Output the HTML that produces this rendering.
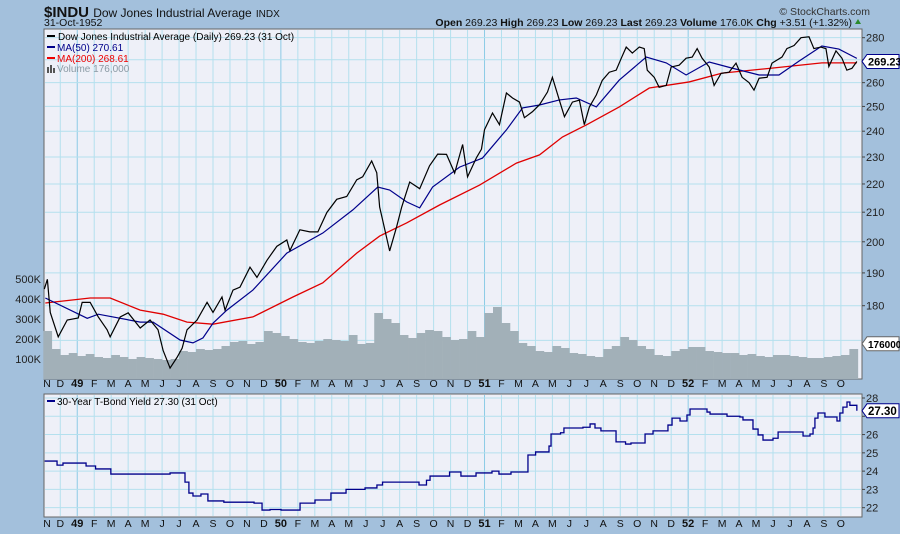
<!DOCTYPE html>
<html><head><meta charset="utf-8"><style>
body{margin:0;background:#a3c0dc;}
svg{display:block;font-family:"Liberation Sans",sans-serif;}
</style></head><body>
<svg id="chart" width="900" height="534" viewBox="0 0 900 534">
<rect x="0" y="0" width="900" height="534" fill="#a3c0dc"/>
<text x="44" y="17" font-size="15" font-weight="bold" fill="#111">$INDU <tspan font-size="12" font-weight="normal">Dow Jones Industrial Average</tspan> <tspan font-size="10" font-weight="normal">INDX</tspan></text>
<text x="44" y="26" font-size="10.5" fill="#111">31-Oct-1952</text>
<text x="870" y="15" font-size="10.5" fill="#333" text-anchor="end">© StockCharts.com</text>
<text x="852" y="26" font-size="10.5" fill="#111" text-anchor="end"><tspan font-weight="bold">Open</tspan> 269.23  <tspan font-weight="bold">High</tspan> 269.23  <tspan font-weight="bold">Low</tspan> 269.23  <tspan font-weight="bold">Last</tspan> 269.23  <tspan font-weight="bold">Volume</tspan> 176.0K  <tspan font-weight="bold">Chg</tspan> +3.51 (+1.32%)</text>
<polygon points="855,24 861,24 858,19" fill="#2a8a2a"/>
<rect x="44" y="29" width="818" height="350" fill="#eef0f8" stroke="#666"/>
<rect x="44" y="394" width="818" height="123" fill="#eef0f8" stroke="#666"/>
<g id="grid"></g>
<g id="vol"></g>
<g id="lines"></g>
<g id="axes"></g>
<g font-size="10">
<rect x="47" y="35" width="8" height="2" fill="#000"/><text x="58" y="40" fill="#000">Dow Jones Industrial Average (Daily) 269.23 (31 Oct)</text>
<rect x="47" y="46" width="8" height="2" fill="#00008b"/><text x="57" y="51" fill="#00008b">MA(50) 270.61</text>
<rect x="47" y="57" width="8" height="2" fill="#e00"/><text x="57" y="62" fill="#e00">MA(200) 268.61</text>
<text x="57" y="72" fill="#8a9aa4">Volume 176,000</text>
<rect x="47" y="67" width="2" height="6" fill="#555"/><rect x="50" y="65" width="2" height="8" fill="#555"/><rect x="53" y="68" width="2" height="5" fill="#555"/>
<rect x="47" y="400" width="8" height="2" fill="#00008b"/><text x="57" y="405" fill="#000">30-Year T-Bond Yield 27.30 (31 Oct)</text>
</g>
</svg>
<script>
const priceM=[0.06,0.24,0.41,0.88,1.41,2.06,2.29,2.76,3.24,3.76,3.94,4.53,5.0,5.71,6.29,6.76,7.06,7.47,7.88,8.18,8.47,9.06,9.65,10.0,10.53,10.71,11.18,11.59,12.18,12.59,13.18,13.76,14.35,14.53,15.12,15.71,16.18,16.71,17.29,17.88,18.47,18.82,19.35,19.65,19.82,20.0,20.41,20.82,21.12,21.59,22.18,22.76,23.24,23.76,24.24,24.71,25.0,25.53,25.82,26.0,26.47,26.88,27.29,27.65,28.06,28.35,28.82,29.24,29.71,30.0,30.41,30.71,31.18,31.59,31.88,32.18,32.59,32.94,33.35,33.76,34.06,34.35,34.71,35.12,35.41,35.59,36.0,36.29,36.71,37.0,37.47,37.88,38.24,38.53,38.82,39.24,39.53,39.94,40.41,40.82,41.18,41.59,41.88,42.18,42.65,42.94,43.53,43.82,44.24,44.65,45.12,45.41,45.82,46.12,46.29,46.71,47.06,47.35,47.65,47.94];
const priceV=[185,188,178,171,175.8,176.4,181,181,176.7,173,171,176.7,177.9,173.5,175.8,173,167.2,162.4,165.3,167.8,173,175.8,181,178,182.6,178.7,184.7,185.6,191.8,188.6,194,198.5,200.6,197.1,204,203.3,203.3,209.9,214.5,215.5,221.5,222.6,228.5,224.1,211.8,207.2,197,205,211.8,220.7,218.3,226.7,231.1,231,224,234.8,222.6,229.8,233,240.6,247.3,242.6,255.6,253.5,251.8,245.4,247.8,250.7,256,262.3,252.6,245.8,251.8,252.6,242.6,249.8,254.8,261,264.5,265.4,270.7,275.7,273,275.7,275,265.4,262.3,258,258.8,266.8,267.6,270.7,271.2,275,270.7,266.8,258.8,264,264.5,268.5,262.3,260,256.8,261.9,262.3,268.5,271.2,275,276.4,280,280.4,275,275.7,275,267,274,270.7,265.4,266.2,269.23];
const ma50M=[0.12,2.59,3.24,5.71,6.47,8.06,8.82,9.41,10.0,10.82,12.35,14.35,16.47,18.24,19.71,20.41,21.41,22.18,22.94,24.53,25.88,27.29,28.24,29.24,30.41,31.41,32.59,33.94,35.53,36.71,37.88,39.24,40.59,42.18,43.35,44.53,45.88,46.88,47.94];
const ma50V=[182.3,176.3,177.5,175.2,175.2,170.1,169.3,170.7,174.9,178.7,184.7,196.3,202.9,210.8,218.9,217.8,213.6,211.5,218.9,226.2,229.6,240.5,249.4,250.6,252.7,253.5,249.8,261.1,271.2,268.6,263.3,269.0,266.3,263.3,263.3,269.4,276.2,274.8,270.61];
const ma200M=[0.12,2.76,3.94,5.71,7.06,8.47,10.0,12.35,14.71,16.47,18.47,19.82,21.41,23.35,25.71,27.88,29.24,30.59,32.0,33.94,35.71,38.06,40.0,42.94,45.88,47.94];
const ma200V=[180.8,182.3,182.3,178.7,177.5,175.2,174.6,176.7,182.6,186.9,196.3,201.9,206.3,212.5,219.6,227.7,230.8,237.7,242.5,249.8,257.7,260.3,264.1,266.3,268.6,268.61];
const volumeK=[240,150,120,130,115,125,110,105,120,110,100,110,105,100,95,100,140,135,150,145,150,165,185,190,175,185,240,230,215,200,185,180,190,200,195,190,220,175,180,330,300,280,220,205,230,245,240,210,195,200,240,210,330,360,280,240,180,165,140,135,165,155,130,125,115,110,150,165,210,195,165,150,120,115,140,150,160,160,140,135,130,130,120,125,115,110,120,120,115,110,105,105,110,115,120,150];
const yieldM=[0.08,0.81,1.16,2.52,3.08,3.98,7.47,8.35,8.58,8.82,9.29,9.70,10.64,12.42,12.89,13.36,14.01,15.13,16.01,16.95,17.84,18.96,19.66,19.99,22.14,22.58,22.79,23.94,24.61,25.50,26.44,26.85,27.56,28.56,29.01,29.80,29.92,30.48,30.68,31.80,32.22,32.51,32.86,33.75,34.31,34.63,35.46,35.93,36.81,37.05,37.52,37.93,38.11,39.11,39.29,40.29,41.05,41.23,41.82,42.12,42.41,43.0,43.30,44.77,45.18,45.36,45.47,45.65,46.06,46.77,46.94,47.12,47.36,47.53,47.94];
const yieldV=[24.55,24.33,24.44,24.28,24.12,23.84,23.9,23.4,22.8,22.64,22.75,22.37,22.3,22.25,21.87,21.9,21.87,22.25,22.42,22.8,23.0,23.08,23.24,23.4,23.24,23.5,23.73,23.95,23.73,23.9,24.0,23.84,23.95,24.88,25.05,25.37,26.03,26.1,26.36,26.4,26.58,26.36,26.2,25.6,25.48,25.54,26.03,26.2,26.52,26.9,26.74,27.07,27.4,27.23,27.12,27.0,26.96,26.8,26.3,25.98,25.7,25.8,26.14,25.92,26.03,26.36,26.9,27.18,26.96,26.74,27.18,27.5,27.78,27.6,27.3];
const monthLabels=["N","D","49","F","M","A","M","J","J","A","S","O","N","D","50","F","M","A","M","J","J","A","S","O","N","D","51","F","M","A","M","J","J","A","S","O","N","D","52","F","M","A","M","J","J","A","S","O"];
const priceTicks=[180,190,200,210,220,230,240,250,260,270,280];
const volTicks=[100,200,300,400,500];
const yieldTicks=[22,23,24,25,26,27,28];

const NS="http://www.w3.org/2000/svg";
const X=m=>43.3+m*16.97;
const PY=p=>305.7-606.6*Math.log(p/180);
const VY=v=>379-v*0.2;
const YY=v=>398+(28-v)*18.28;
function mk(tag,attrs,parent){const e=document.createElementNS(NS,tag);for(const k in attrs)e.setAttribute(k,attrs[k]);parent.appendChild(e);return e;}
const grid=document.getElementById('grid'),vol=document.getElementById('vol'),lines=document.getElementById('lines'),axes=document.getElementById('axes');

monthLabels.forEach((lab,i)=>{
  const x=X(i);
  if(x>44&&x<862){
    const g1=mk('line',{x1:x,x2:x,y1:30,y2:378,stroke:lab.length>1?'#8ccbe6':'#b4e0ee','stroke-width':1},grid);
    
    
    const g2=mk('line',{x1:x,x2:x,y1:395,y2:516,stroke:lab.length>1?'#8ccbe6':'#b4e0ee','stroke-width':1},grid);
    
    
  }
  [387,527].forEach(y=>{
    const t=mk('text',{x:Math.max(x,47),y:y,'font-size':lab.length>1?11:10.5,'font-weight':lab.length>1?'bold':'normal','text-anchor':'middle',fill:'#111'},axes);
    t.textContent=lab;
    
    
  });
});
[170].concat(priceTicks).forEach(p=>{
  const y=PY(p);
  const l=mk('line',{x1:45,x2:861,y1:y,y2:y,stroke:'#b4e0ee'},grid);
  
  
  if(p>=180&&p!==270){
    const t=mk('text',{x:866,y:y+4,'font-size':11,fill:'#222'},axes);
    t.textContent=p;
    
    
  }
  if(p>=180) mk('line',{x1:862,x2:865,y1:y,y2:y,stroke:'#444'},axes);
});
volTicks.forEach(v=>{
  const t=mk('text',{x:41,y:VY(v)+4,'font-size':11,fill:'#222','text-anchor':'end'},axes);
  t.textContent=v+'K';
  
  
});
yieldTicks.forEach(v=>{
  const y=YY(v);
  const l=mk('line',{x1:45,x2:861,y1:y,y2:y,stroke:'#b4e0ee'},grid);
  
  
  mk('line',{x1:862,x2:865,y1:y,y2:y,stroke:'#444'},axes);
  if(v!==27){
    const t=mk('text',{x:866,y:y+4,'font-size':11,fill:'#222'},axes);
    t.textContent=v;
    
    
  }
});
volumeK.forEach((v,i)=>{
  const x0=X(i/2),x1=Math.min(X((i+1)/2),861);
  const r=mk('rect',{x:x0,y:VY(v),width:x1-x0+0.3,height:379-VY(v),fill:'#a2b0b8'},vol);
  
  
});
function poly(ms,vs,fy,color,w,name,step){
  let d='';
  ms.forEach((m,i)=>{
    const x=X(m),y=fy(vs[i]);
    if(i===0)d+='M'+x+','+y;
    else if(step)d+='H'+x+'V'+y;
    else d+='L'+x+','+y;
  });
  const p=mk('path',{d:d,fill:'none',stroke:color,'stroke-width':w},lines);
  
  
}
poly(ma200M,ma200V,PY,'#e00000',1.3,'ma200-line');
poly(ma50M,ma50V,PY,'#00008b',1.2,'ma50-line');
poly(priceM,priceV,PY,'#000',1.2,'price-line');
poly(yieldM,yieldV,YY,'#00008b',1.3,'yield-line',true);
function tag(y,txt,name,color,fs){
  const g=mk('g',{},axes);
  
  
  mk('polygon',{points:`862,${y} 867,${y-7} 899,${y-7} 899,${y+7} 867,${y+7}`,fill:'#fff',stroke:color},g);
  const t=mk('text',{x:868,y:y+4,'font-size':fs,'font-weight':'bold',fill:'#000'},g);
  t.textContent=txt;
}
tag(PY(priceV[priceV.length-1]),'269.23','last-price-tag','#00008b',11);
tag(VY(176),'176000','last-volume-tag','#666',10);
tag(YY(yieldV[yieldV.length-1]),'27.30','last-yield-tag','#00008b',11.5);
</script>
</body></html>
